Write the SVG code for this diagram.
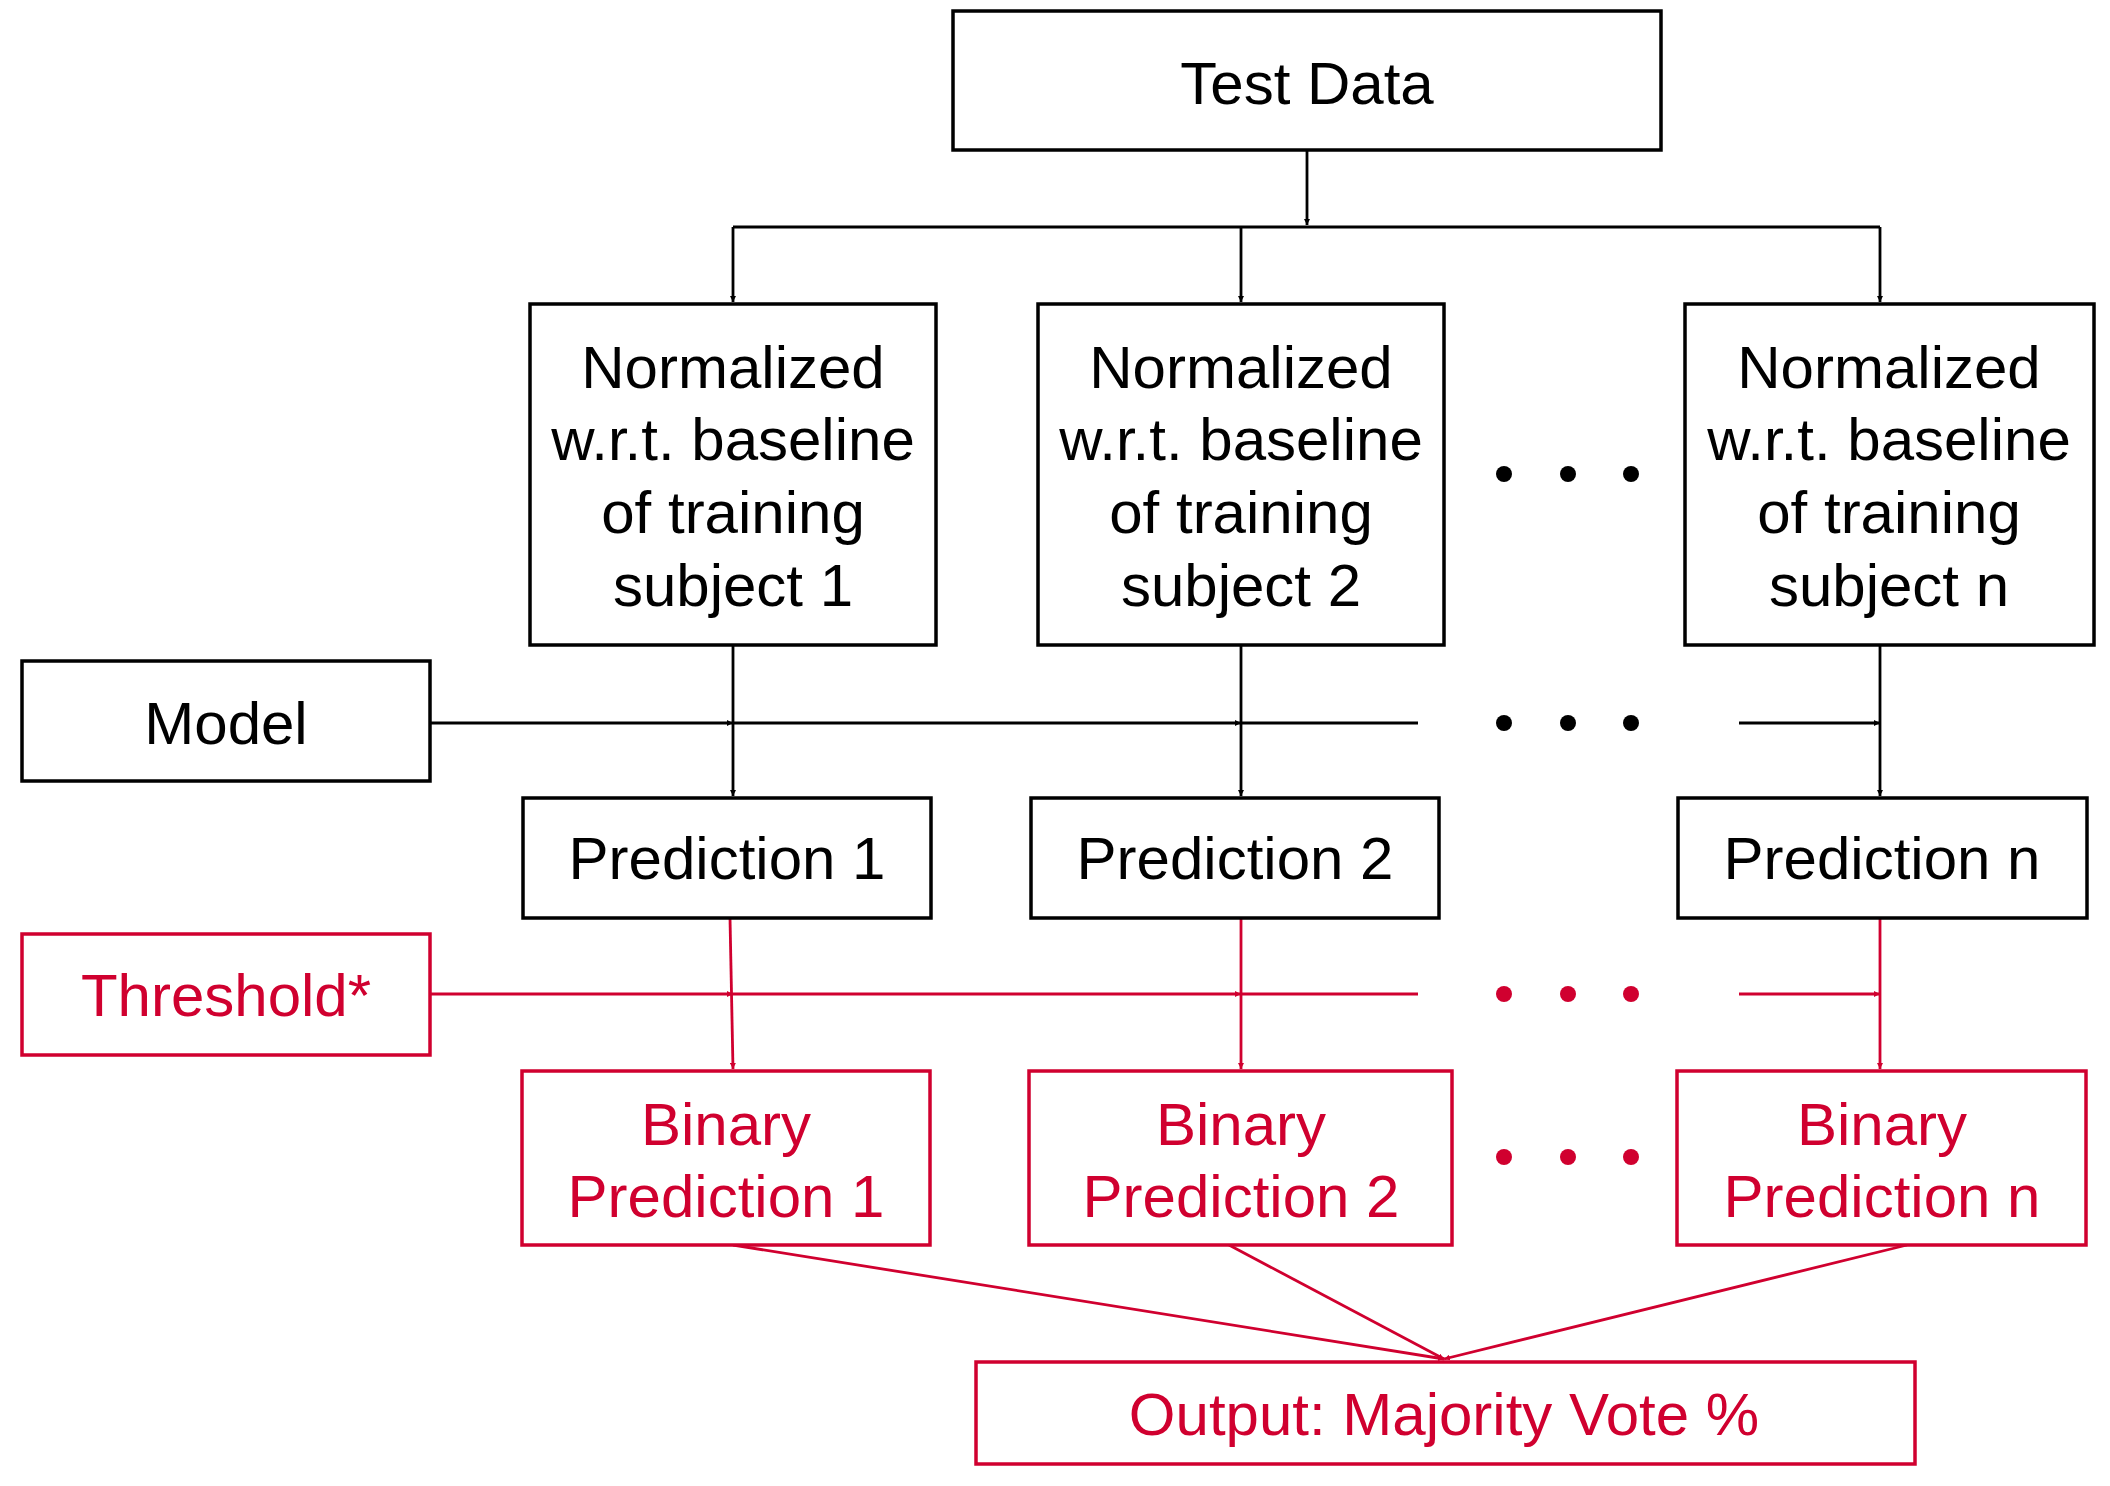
<svg xmlns="http://www.w3.org/2000/svg" width="2110" height="1486" viewBox="0 0 2110 1486">
<style>
.b{fill:#fff;stroke:#000;stroke-width:3.5}
.r{fill:#fff;stroke:#D0002F;stroke-width:3.5}
text{font-family:"Liberation Sans",Arial,sans-serif;font-size:60px;text-anchor:middle}
.tk{fill:#000}.tr{fill:#D0002F}
.ck{stroke:#000;stroke-width:2.8;fill:none}
.cr{stroke:#D0002F;stroke-width:2.8;fill:none}
</style>
<defs>
<marker id="ak" viewBox="0 0 10 10" refX="10" refY="5" markerWidth="6" markerHeight="6" markerUnits="userSpaceOnUse" orient="auto"><path d="M0,0L10,5L0,10z" fill="#000"/></marker>
<marker id="ar" viewBox="0 0 10 10" refX="10" refY="5" markerWidth="6" markerHeight="6" markerUnits="userSpaceOnUse" orient="auto"><path d="M0,0L10,5L0,10z" fill="#D0002F"/></marker>
</defs>
<g id="connectors">
<path class="ck" d="M1307,149V225" marker-end="url(#ak)" style="marker-end:url(#ak)"/>
<path class="ck" d="M733,227H1880"/>
<path class="ck" d="M733,227V302" marker-end="url(#ak)"/>
<path class="ck" d="M1241,227V302" marker-end="url(#ak)"/>
<path class="ck" d="M1880,227V302" marker-end="url(#ak)"/>
<path class="ck" d="M430,723H733" marker-end="url(#ak)"/>
<path class="ck" d="M733,723H1241" marker-end="url(#ak)"/>
<path class="ck" d="M1241,723H1418"/>
<path class="ck" d="M1739,723H1880" marker-end="url(#ak)"/>
<path class="ck" d="M733,645V796" marker-end="url(#ak)"/>
<path class="ck" d="M1241,645V796" marker-end="url(#ak)"/>
<path class="ck" d="M1880,645V796" marker-end="url(#ak)"/>
<path class="cr" d="M430,994H733" marker-end="url(#ar)"/>
<path class="cr" d="M733,994H1241" marker-end="url(#ar)"/>
<path class="cr" d="M1241,994H1418"/>
<path class="cr" d="M1739,994H1880" marker-end="url(#ar)"/>
<path class="cr" d="M730,918L733,1069" marker-end="url(#ar)"/>
<path class="cr" d="M1241,918V1069" marker-end="url(#ar)"/>
<path class="cr" d="M1880,918V1069" marker-end="url(#ar)"/>
<path class="cr" d="M733,1245L1444,1359" marker-end="url(#ar)"/>
<path class="cr" d="M1229,1245L1444,1359" marker-end="url(#ar)"/>
<path class="cr" d="M1907,1245L1444,1359" marker-end="url(#ar)"/>
</g>
<g id="dots">
<circle cx="1504" cy="474" r="8"/><circle cx="1568" cy="474" r="8"/><circle cx="1631" cy="474" r="8"/>
<circle cx="1504" cy="723" r="8"/><circle cx="1568" cy="723" r="8"/><circle cx="1631" cy="723" r="8"/>
<g fill="#D0002F"><circle cx="1504" cy="994" r="8"/><circle cx="1568" cy="994" r="8"/><circle cx="1631" cy="994" r="8"/>
<circle cx="1504" cy="1157" r="8"/><circle cx="1568" cy="1157" r="8"/><circle cx="1631" cy="1157" r="8"/></g>
</g>
<g id="test"><rect class="b" x="953" y="11" width="708" height="139"/><text class="tk" x="1307" y="104">Test Data</text></g>
<g id="norm1"><rect class="b" x="530" y="304" width="406" height="341"/><text class="tk" x="733"><tspan x="733" y="388">Normalized</tspan><tspan x="733" y="460">w.r.t. baseline</tspan><tspan x="733" y="533">of training</tspan><tspan x="733" y="606">subject 1</tspan></text></g>
<g id="norm2"><rect class="b" x="1038" y="304" width="406" height="341"/><text class="tk"><tspan x="1241" y="388">Normalized</tspan><tspan x="1241" y="460">w.r.t. baseline</tspan><tspan x="1241" y="533">of training</tspan><tspan x="1241" y="606">subject 2</tspan></text></g>
<g id="normn"><rect class="b" x="1685" y="304" width="409" height="341"/><text class="tk"><tspan x="1889" y="388">Normalized</tspan><tspan x="1889" y="460">w.r.t. baseline</tspan><tspan x="1889" y="533">of training</tspan><tspan x="1889" y="606">subject n</tspan></text></g>
<g id="model"><rect class="b" x="22" y="661" width="408" height="120"/><text class="tk" x="226" y="744">Model</text></g>
<g id="pred1"><rect class="b" x="523" y="798" width="408" height="120"/><text class="tk" x="727" y="879">Prediction 1</text></g>
<g id="pred2"><rect class="b" x="1031" y="798" width="408" height="120"/><text class="tk" x="1235" y="879">Prediction 2</text></g>
<g id="predn"><rect class="b" x="1678" y="798" width="409" height="120"/><text class="tk" x="1882" y="879">Prediction n</text></g>
<g id="threshold"><rect class="r" x="22" y="934" width="408" height="121"/><text class="tr" x="226" y="1016">Threshold*</text></g>
<g id="bin1"><rect class="r" x="522" y="1071" width="408" height="174"/><text class="tr"><tspan x="726" y="1145">Binary</tspan><tspan x="726" y="1217">Prediction 1</tspan></text></g>
<g id="bin2"><rect class="r" x="1029" y="1071" width="423" height="174"/><text class="tr"><tspan x="1241" y="1145">Binary</tspan><tspan x="1241" y="1217">Prediction 2</tspan></text></g>
<g id="binn"><rect class="r" x="1677" y="1071" width="409" height="174"/><text class="tr"><tspan x="1882" y="1145">Binary</tspan><tspan x="1882" y="1217">Prediction n</tspan></text></g>
<g id="output"><rect class="r" x="976" y="1362" width="939" height="102"/><text class="tr" x="1444" y="1435">Output: Majority Vote %</text></g>
</svg>
